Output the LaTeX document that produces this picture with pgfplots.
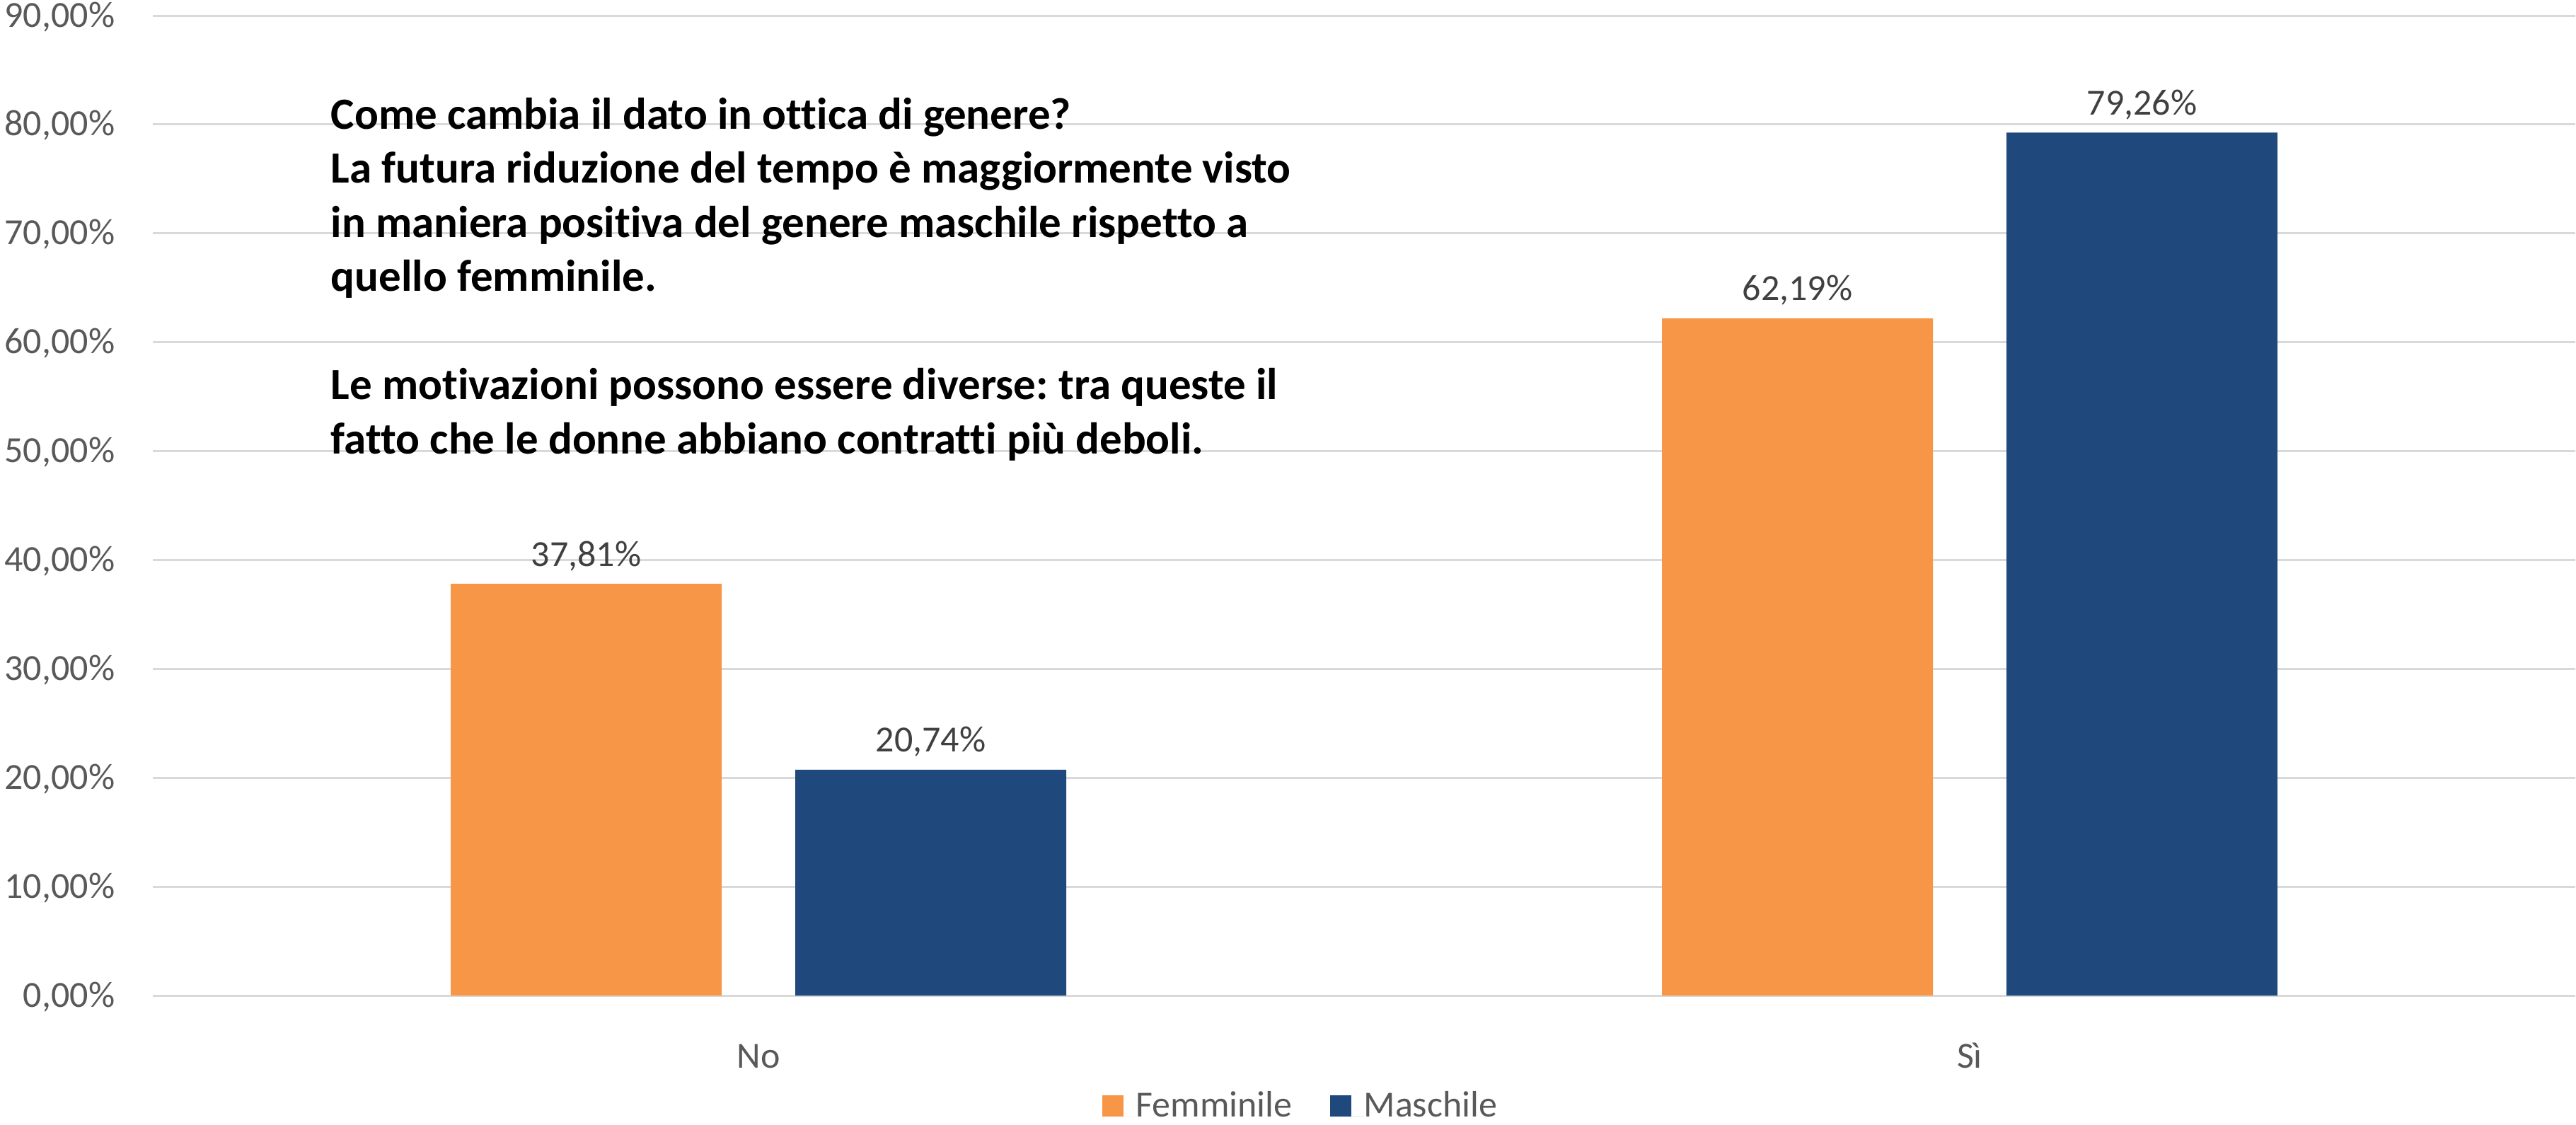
\documentclass[border=0pt]{standalone}
\usepackage{fontspec}
\setmainfont{Carlito}[Ligatures=NoCommon]
\usepackage{pgfplots}
\pgfplotsset{compat=1.18}
\definecolor{fem}{HTML}{F79646}
\definecolor{mas}{HTML}{1F497D}
\definecolor{gridc}{HTML}{D9D9D9}
\definecolor{ticktext}{HTML}{595959}
\definecolor{labtext}{HTML}{404040}
\frenchspacing

\begin{document}
\begin{tikzpicture}[font=\fontsize{13}{15.6}\selectfont]
\useasboundingbox (0,0) rectangle (910.25pt,397.25pt);
\begin{axis}[
    at={(54pt,45.5pt)}, anchor=south west,
    scale only axis, width=856pt, height=346.25pt,
    xmin=-0.5, xmax=1.5, ymin=0, ymax=90,
    ytick={0,10,...,90},
    xtick={0,1}, xticklabels={No, Sì},
    ymajorgrids, grid style={draw=gridc, line width=0.75pt},
    axis line style={draw=none}, tick style={draw=none},
    ybar=26pt, bar width=95.75pt,
    ticklabel style={text=ticktext, inner sep=0pt},
    yticklabel style={anchor=base east, xshift=-13.25pt, yshift=-4pt},
    yticklabel={\pgfmathprintnumber[fixed,fixed zerofill,precision=2,use comma,assume math mode=true]{\tick}\%},
    xticklabel style={anchor=base, yshift=-21.25pt},
    nodes near coords={\pgfmathprintnumber[fixed,fixed zerofill,precision=2,use comma,assume math mode=true]{\pgfplotspointmeta}\%},
    nodes near coords style={text=labtext, anchor=base, inner sep=0pt, yshift=6.25pt},
    legend columns=2,
    legend style={at={(0.4734,-0.1126)}, anchor=center, draw=none, fill=none,
        inner sep=0pt, nodes={inner sep=0pt, text=ticktext}, cells={anchor=base west},
        /tikz/every even column/.append style={column sep=13.25pt}},
    legend image code/.code={\fill[#1] (0pt,0pt) rectangle (7.5pt,7.5pt); \path (0pt,0pt) -- (12pt,0pt);},
]
\addplot[fill=fem, draw=none] coordinates {(0,37.81) (1,62.19)};
\addplot[fill=mas, draw=none] coordinates {(0,20.74) (1,79.26)};
\legend{Femminile, Maschile}
\end{axis}
\node[anchor=base west, align=left, inner sep=0pt,
      font=\fontsize{15.75}{19.125}\selectfont\bfseries] at (116.75pt,237pt)
  {Come cambia il dato in ottica di genere?\\
   La futura riduzione del tempo è maggiormente visto\\
   in maniera positiva del genere maschile rispetto a\\
   quello femminile.\\[19.125pt]
   Le motivazioni possono essere diverse: tra queste il\\
   fatto che le donne abbiano contratti più deboli.};
\end{tikzpicture}
\end{document}
